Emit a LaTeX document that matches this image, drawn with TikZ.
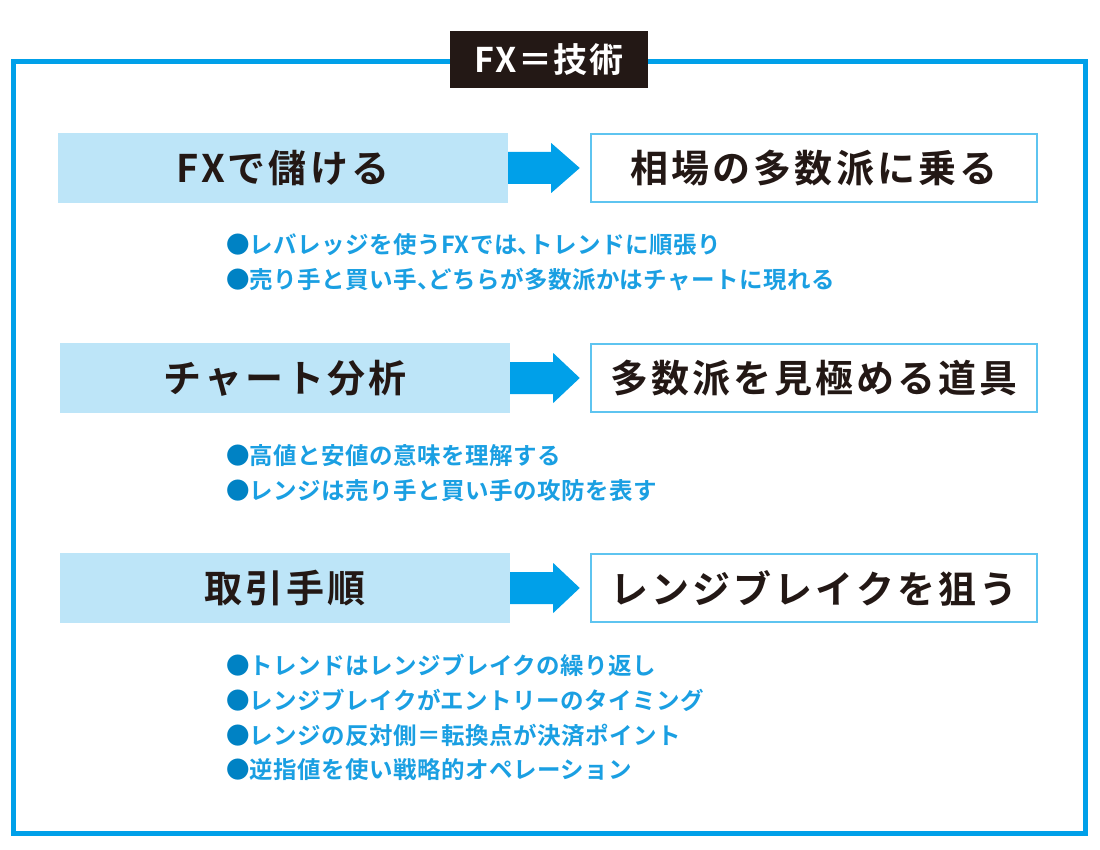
\documentclass[tikz,border=0pt]{standalone}
\usepackage{fontspec}
\usepackage{xcolor}
\usepackage{tikz}
\usetikzlibrary{positioning}
\usetikzlibrary{calc}

\newfontfamily\headfont{Noto Sans CJK JP Bold}[LetterSpace=8]
\newfontfamily\itemfont{Noto Sans CJK JP Bold}[LetterSpace=2]
\newfontfamily\titlefont{Noto Sans CJK JP Bold}[LetterSpace=5]

\definecolor{framecol}{HTML}{00A0E9}
\definecolor{leftfill}{HTML}{BDE5F8}
\definecolor{rightline}{HTML}{5EC4F0}
\definecolor{inkcol}{HTML}{231815}
\definecolor{dotcol}{HTML}{0082C4}
\definecolor{itemcol}{HTML}{1A9FE2}

\tikzset{
  leftbox/.style={fill=leftfill,minimum width=450pt,minimum height=70pt,
    inner sep=0pt,font=\headfont\fontsize{38}{42}\selectfont,text=inkcol},
  rightbox/.style={draw=rightline,line width=2.5pt,fill=white,minimum width=446pt,
    minimum height=68pt,inner sep=0pt,font=\headfont\fontsize{38}{42}\selectfont,text=inkcol},
  itemline/.style={anchor=west,inner sep=0pt,text=itemcol,
    font=\itemfont\fontsize{23.5}{27}\selectfont},
  bigarrow/.style={fill=framecol}
}
\newcommand{\dotmark}{\textcolor{dotcol}{●}}
\newcommand{\tenmark}{{\addfontfeature{RawFeature=+halt}、}}

\begin{document}
\begin{tikzpicture}[x=1pt,y=-1pt]
\useasboundingbox (0,0) rectangle (1100,850);

% outer frame and title
\draw[framecol,line width=5pt] (13,62) rectangle (1085,833);
\node[fill=inkcol,text=white,minimum width=198pt,minimum height=57pt,inner sep=0pt,
  font=\titlefont\fontsize{34}{38}\selectfont] (title) at (549,60) {FX＝技術};

% rows
\node[leftbox]  (l1) at (283,168) {FXで儲ける};
\node[rightbox] (r1) at (814,168) {相場の多数派に乗る};
\node[leftbox]  (l2) at (285,378) {チャート分析};
\node[rightbox] (r2) at (814,378) {多数派を見極める道具};
\node[leftbox]  (l3) at (285,588) {取引手順};
\node[rightbox] (r3) at (814,588) {レンジブレイクを狙う};

% block arrows
\foreach \i in {1,2,3}{
  \fill[bigarrow] ($(l\i.east)+(0,-16)$) -- ++(43,0) -- ++(0,-9)
    -- ($(r\i.west)+(-10,0)$) -- ($(l\i.east)+(43,25)$) -- ++(0,-9)
    -- ($(l\i.east)+(0,16)$) -- cycle;
}

% bullet lists
\node[itemline] (a1) at (226,245) {\dotmark レバレッジを使うFXでは\tenmark トレンドに順張り};
\node[itemline] (a2) at (226,280) {\dotmark 売り手と買い手\tenmark どちらが多数派かはチャートに現れる};
\node[itemline] (b1) at (226,456) {\dotmark 高値と安値の意味を理解する};
\node[itemline] (b2) at (226,491) {\dotmark レンジは売り手と買い手の攻防を表す};
\node[itemline] (c1) at (226,665) {\dotmark トレンドはレンジブレイクの繰り返し};
\node[itemline] (c2) at (226,700) {\dotmark レンジブレイクがエントリーのタイミング};
\node[itemline] (c3) at (226,735) {\dotmark レンジの反対側＝転換点が決済ポイント};
\node[itemline] (c4) at (226,770) {\dotmark 逆指値を使い戦略的オペレーション};
\end{tikzpicture}
\end{document}
